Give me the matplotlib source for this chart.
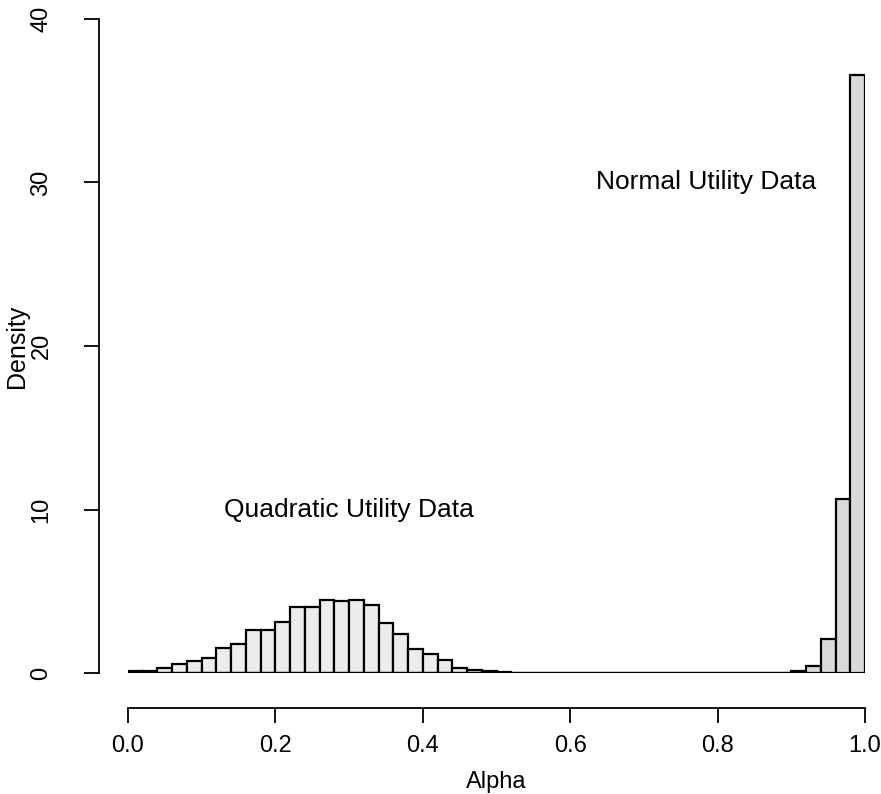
import matplotlib.pyplot as plt
import numpy as np

# bin edges every 0.02 from 0 to 1
bin_edges = np.linspace(0, 1, 51)

# densities, quadratic utility data (bins 0..49)
quad_density = [0.10, 0.10, 0.29, 0.57, 0.74, 0.90, 1.55, 1.78, 2.66, 2.66,
                3.13, 4.05, 4.03, 4.48, 4.38, 4.48, 4.15, 3.03, 2.41, 1.48,
                1.14, 0.82, 0.31, 0.21, 0.10, 0.04] + [0.0] * 24

# normal utility data (bins 0..49)
norm_density = [0.0] * 44 + [0.03, 0.10, 0.41, 2.06, 10.64, 36.6]

x_ticks = [0.0, 0.2, 0.4, 0.6, 0.8, 1.0]
x_labels = ["0.0", "0.2", "0.4", "0.6", "0.8", "1.0"]
y_ticks = [0, 10, 20, 30, 40]

plt.rcParams['font.family'] = ['Liberation Sans', 'DejaVu Sans']

W, H = 881, 794
fig = plt.figure(figsize=(W / 100, H / 100), dpi=100)
ax = fig.add_axes([128 / W, (H - 673) / H, (865 - 128) / W, (673 - 19) / H])

lefts = bin_edges[:-1]
widths = np.diff(bin_edges)
ax.bar(lefts, quad_density, width=widths, align='edge', color='#ececec',
       edgecolor='black', linewidth=1.6)
ax.bar(lefts, norm_density, width=widths, align='edge', color='#d9d9d9',
       edgecolor='black', linewidth=1.6)

ax.text(0.30, 10, "Quadratic Utility Data", ha='center', va='center', fontsize=19)
ax.text(0.785, 30, "Normal Utility Data", ha='center', va='center', fontsize=19)

ax.set_xlim(0, 1)
ax.set_ylim(0, 40)

# R style detached axes
for s in ['top', 'right']:
    ax.spines[s].set_visible(False)
ax.spines['left'].set_position(('outward', 29 * 0.72))
ax.spines['bottom'].set_position(('outward', 35 * 0.72))
ax.spines['left'].set_bounds(0, 40)
ax.spines['bottom'].set_bounds(0, 1)
ax.spines['left'].set_linewidth(1.3)
ax.spines['bottom'].set_linewidth(1.3)

ax.set_xticks(x_ticks)
ax.set_xticklabels(x_labels)
ax.set_yticks(y_ticks)
ax.set_yticklabels([str(v) for v in y_ticks], rotation=90, va='center')
ax.tick_params(axis='both', length=10.5, width=1.3, labelsize=17)
ax.tick_params(axis='x', pad=9)
ax.tick_params(axis='y', pad=23)

ax.set_xlabel("Alpha", fontsize=17, labelpad=10)
ax.set_ylabel("Density", fontsize=18, labelpad=1)

fig.savefig("out.png", dpi=100)
